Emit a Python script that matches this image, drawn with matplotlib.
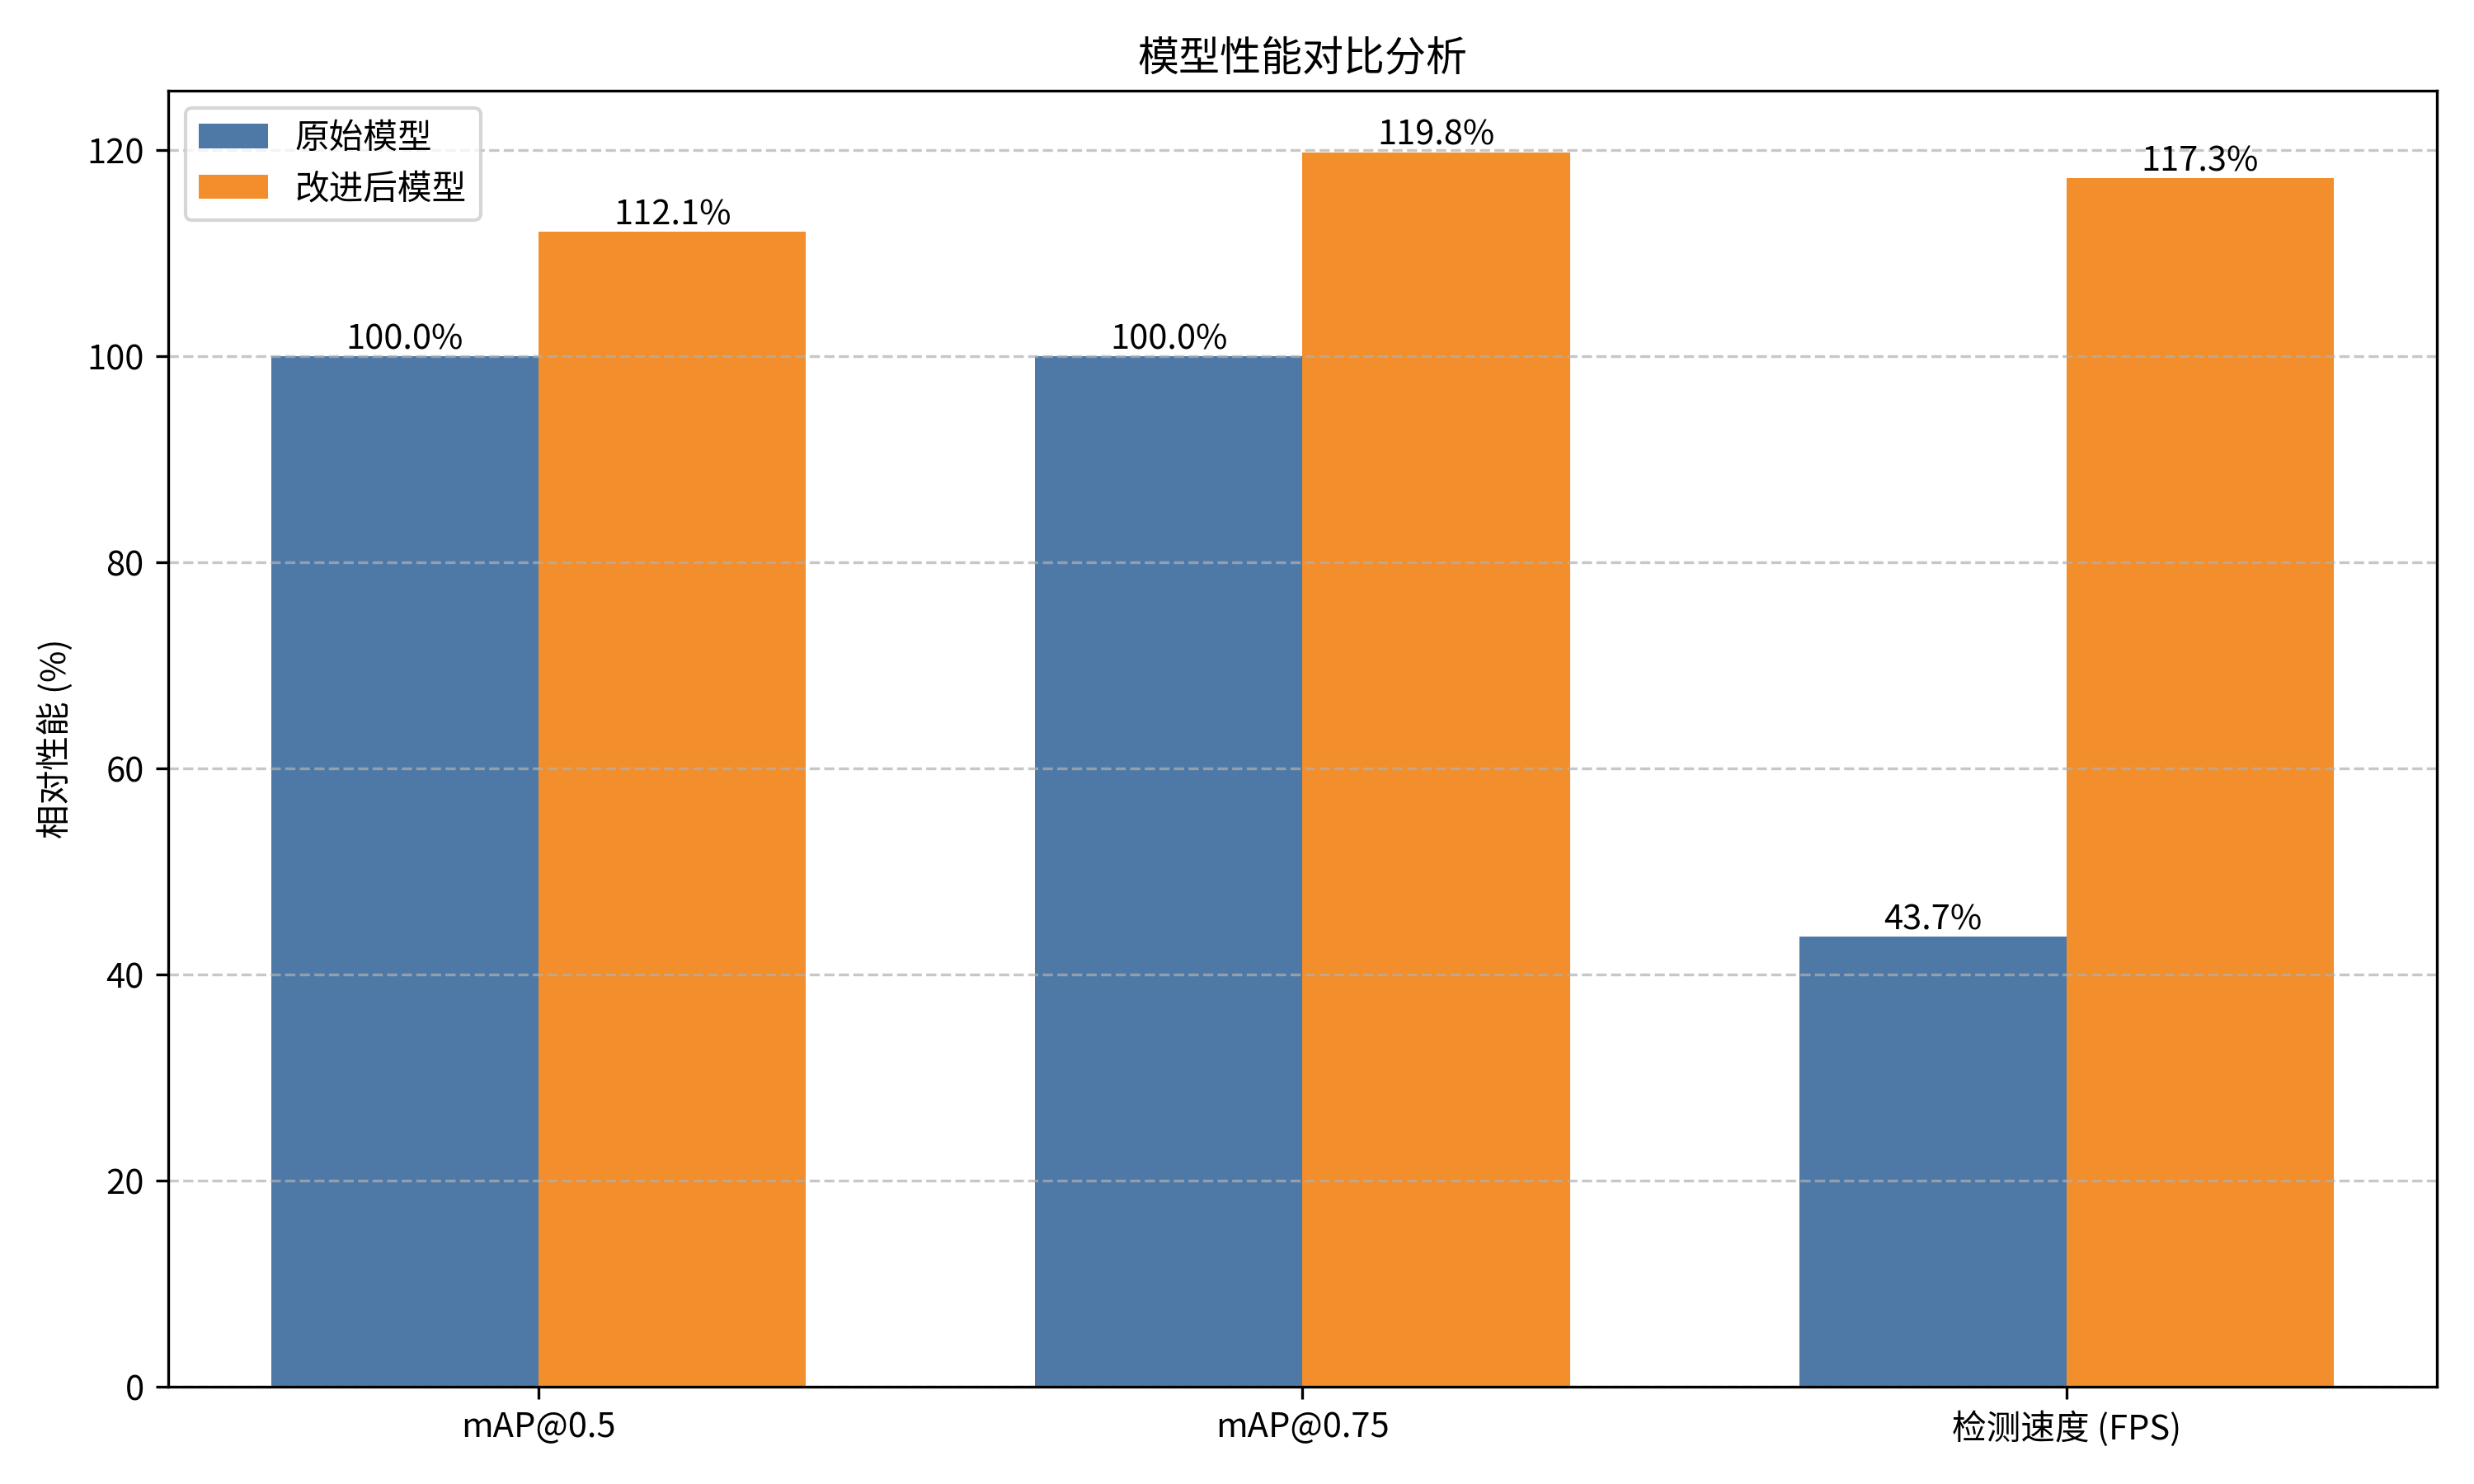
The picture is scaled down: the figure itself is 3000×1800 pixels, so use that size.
import numpy as np
import matplotlib
matplotlib.use("Agg")
import matplotlib.pyplot as plt

plt.rcParams['font.family'] = ['Noto Sans CJK SC', 'DejaVu Sans']
plt.rcParams['axes.unicode_minus'] = False

# data
metrics = ['mAP@0.5', 'mAP@0.75', '检测速度 (FPS)']
original = [100.0, 100.0, 43.7]
improved = [112.1, 119.8, 117.3]
series_names = ['原始模型', '改进后模型']

x = np.arange(len(metrics))
width = 0.35

fig, ax = plt.subplots(figsize=(10, 6), dpi=300)
b1 = ax.bar(x - width / 2, original, width, label=series_names[0], color='#4e79a7')
b2 = ax.bar(x + width / 2, improved, width, label=series_names[1], color='#f28e2b')

for bars in (b1, b2):
    for rect in bars:
        h = rect.get_height()
        ax.text(rect.get_x() + rect.get_width() / 2, h, f'{h:.1f}%',
                ha='center', va='bottom', fontsize=10)

ax.set_title('模型性能对比分析', fontsize=12)
ax.set_ylabel('相对性能 (%)', fontsize=10)
ax.set_xticks(x)
ax.set_xticklabels(metrics, fontsize=10)
ax.tick_params(axis='y', labelsize=10)
ax.legend(loc='upper left', fontsize=10)
ax.grid(axis='y', linestyle='--', alpha=0.7)

plt.tight_layout()
plt.savefig('out.png', dpi=300)
